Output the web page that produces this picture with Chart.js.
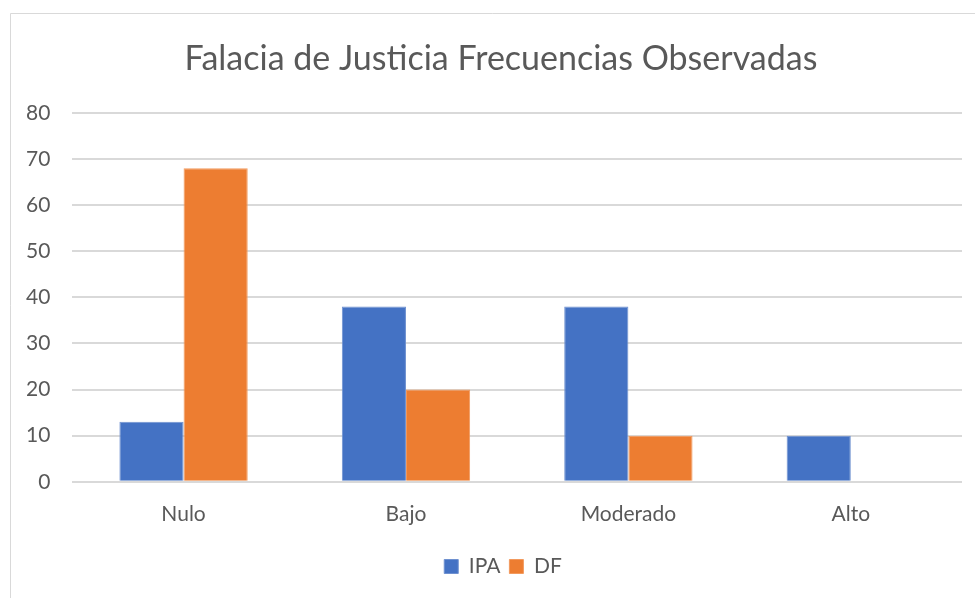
<!DOCTYPE html>
<html><head><meta charset="utf-8">
<script src="https://cdn.jsdelivr.net/npm/chart.js@4/dist/chart.umd.min.js"></script>
<style>html,body{margin:0;padding:0;background:#fff}#wrap{width:975px;height:598px;position:relative}</style>
</head><body><div id="wrap"><canvas id="c" width="975" height="598"></canvas></div>
<script>
const categories = ["Nulo", "Bajo", "Moderado", "Alto"];
const ipaValues = [13, 38, 38, 10];
const dfValues = [68, 20, 10, 0];
const seriesNames = ["IPA", "DF"];
const titleText = "Falacia de Justicia Frecuencias Observadas";

const frame = {
  id: 'frame',
  beforeDraw(chart) {
    const ctx = chart.ctx;
    ctx.save();
    ctx.fillStyle = '#fff';
    ctx.fillRect(0, 0, chart.width, chart.height);
    ctx.strokeStyle = '#d9d9d9';
    ctx.lineWidth = 1;
    ctx.beginPath();
    ctx.moveTo(10.5, 598); ctx.lineTo(10.5, 13.5); ctx.lineTo(975, 13.5);
    ctx.stroke();
    ctx.restore();
  },
  afterLayout(chart) {
    // centre title and legend over the plot like the original
    if (chart.titleBlock) chart.titleBlock.left += 36;
    if (chart.legend) chart.legend.left += 40;
  }
};

Chart.defaults.font.family = "Lato, 'Open Sans', sans-serif";
Chart.defaults.color = '#595959';

new Chart(document.getElementById('c'), {
  type: 'bar',
  data: {
    labels: categories,
    datasets: [
      { label: seriesNames[0], data: ipaValues, backgroundColor: '#4472C4', borderColor: '#6f91d0', borderWidth: 1 },
      { label: seriesNames[1], data: dfValues, backgroundColor: '#ED7D31', borderColor: '#f29a5e', borderWidth: 1 }
    ]
  },
  options: {
    responsive: false,
    animation: false,
    devicePixelRatio: 1,
    layout: { padding: { left: 4, right: 13, top: 39, bottom: 11 } },
    datasets: { bar: { categoryPercentage: 0.577, barPercentage: 1.0 } },
    plugins: {
      title: { display: true, text: titleText, color: '#595959', font: { size: 34, weight: 'normal' }, padding: { top: 0, bottom: 33 } },
      legend: { position: 'bottom', labels: { boxWidth: 14, boxHeight: 14, font: { size: 21 }, color: '#595959', padding: 9 } },
      tooltip: { enabled: false }
    },
    scales: {
      x: {
        grid: { display: false, drawTicks: false },
        border: { display: false },
        ticks: { font: { size: 21 }, color: '#595959', padding: 20 }
      },
      y: {
        min: 0, max: 80,
        ticks: { stepSize: 10, font: { size: 21 }, color: '#595959', padding: 22 },
        grid: { color: '#d9d9d9', lineWidth: 2, drawTicks: false },
        border: { display: false }
      }
    }
  },
  plugins: [frame]
});
</script></body></html>
